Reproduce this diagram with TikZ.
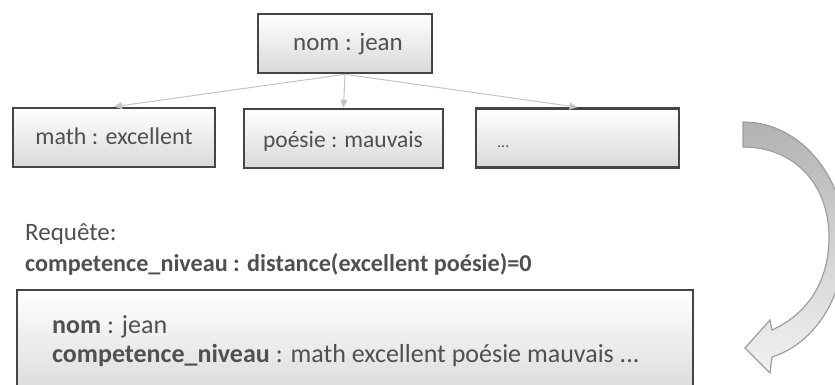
\documentclass[tikz,border=0pt]{standalone}
\usepackage{fontspec}
\setmainfont{Carlito}
\usetikzlibrary{arrows.meta}
\definecolor{txt}{HTML}{505050}
\definecolor{boxline}{HTML}{454545}
\definecolor{connc}{HTML}{C4C4C4}
\tikzset{
  boxnode/.style={draw=boxline, line width=2.6pt, top color=white, bottom color=black!15,
    minimum width=#1, inner sep=0pt, minimum height=59pt},
  boxtext/.style={text=txt, font=\fontsize{24}{28}\selectfont, inner sep=0pt},
  conn/.style={draw=connc, line width=1pt, -{Triangle[length=8pt,width=7pt]}},
  plain/.style={text=txt, font=\fontsize{24.2}{28}\selectfont, inner sep=0pt, anchor=base west},
  bigarrow/.style={draw=black!38, line width=1.2pt, top color=black!30, bottom color=black!5}
}
\begin{document}
\begin{tikzpicture}[x=1pt,y=-1pt]
\useasboundingbox (0,0) rectangle (835,385);
\clip (0,0) rectangle (835,385);
% tree
\node[boxnode=174pt] (top) at (345,43.5) {};
\node[boxtext, anchor=base, font=\fontsize{25}{29}\selectfont] (toptxt) at (348,51) {nom : jean};
\node[boxnode=202pt] (math) at (114,137.5) {};
\node[boxtext, anchor=base] (mathtxt) at (114,144) {math : excellent};
\node[boxnode=199pt] (poesie) at (343.5,138.5) {};
\node[boxtext, anchor=base, font=\fontsize{23.5}{28}\selectfont] (poesietxt) at (343,147) {poésie : mauvais};
\node[boxnode=203pt] (dots) at (577.5,138) {};
\node[boxtext, anchor=base west, font=\fontsize{16}{20}\selectfont] (dotstxt) at (497,147) {...};
\draw[conn] (top.south) -- (math.north);
\draw[conn] (top.south) -- (poesie.north);
\draw[conn] (top.south) -- (dots.north);
% query
\node[plain, font=\fontsize{25}{29}\selectfont] (req) at (25,240) {Requête:};
\node[plain] (query) at (25,271) {\bfseries competence\_niveau : distance(excellent poésie)=0};
% result
\node[boxnode=676pt, minimum height=110pt] (result) at (355,345) {};
\node[plain, font=\fontsize{26}{30}\selectfont] (res1) at (52,333) {\bfseries nom\mdseries{} : jean};
\node[plain, font=\fontsize{26}{30}\selectfont] (res2) at (52,362) {\bfseries competence\_niveau\mdseries{} : math excellent poésie mauvais ...};
% curved arrow
\draw[bigarrow] (743,122) .. controls (805,122) and (848,185) .. (845,245)
  .. controls (842,305) and (810,345) .. (772,357)
  -- (770,373) -- (745,348) -- (770,320) -- (772,330)
  .. controls (805,315) and (828,285) .. (829,240)
  .. controls (830,185) and (795,147) .. (743,147) -- cycle;
\end{tikzpicture}
\end{document}
